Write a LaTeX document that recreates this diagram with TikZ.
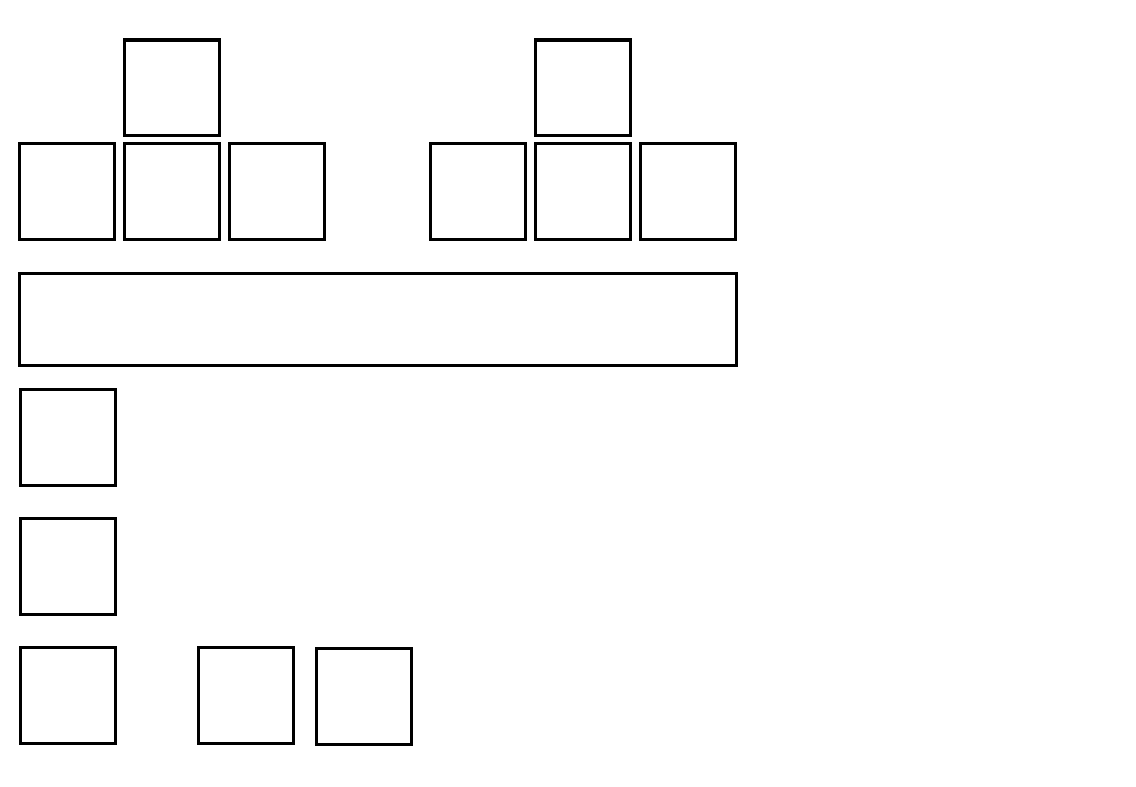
\documentclass[tikz,border=0pt]{standalone}
\usepackage{tikz}
\usetikzlibrary{positioning}

\begin{document}
\begin{tikzpicture}[
        x=0.025cm, y=-0.025cm,
        node distance=0.17cm,
        cell/.style={
          draw,
          line width=2.2pt,
          inner sep=0pt,
          minimum width=2.38cm,
          minimum height=2.38cm
        },
        bar/.style={
          draw,
          line width=2.2pt,
          inner sep=0pt,
          minimum width=17.9cm,
          minimum height=2.3cm
        }
      ]

        \useasboundingbox (0,0) rectangle (1136,787);

        % left group
        \node[cell] (lmid) at (172,191.5) {};
        \node[cell, left=of lmid] (lleft) {};
        \node[cell, right=of lmid] (lright) {};
        \node[cell, above=0.14cm of lmid] (ltop) {};

        % right group
        \node[cell] (rmid) at (583,191.5) {};
        \node[cell, left=of rmid] (rleft) {};
        \node[cell, right=of rmid] (rright) {};
        \node[cell, above=0.14cm of rmid] (rtop) {};

        \node[bar] (wide) at (378,319.5) {};

        % column
        \node[cell] (colone) at (68,437.5) {};
        \node[cell] (coltwo) at (68,566.5) {};
        \node[cell] (colthree) at (68,695.5) {};
        \node[cell] (botmid) at (246,695.5) {};
        \node[cell] (botright) at (364,696.5) {};

      \end{tikzpicture}
\end{document}
